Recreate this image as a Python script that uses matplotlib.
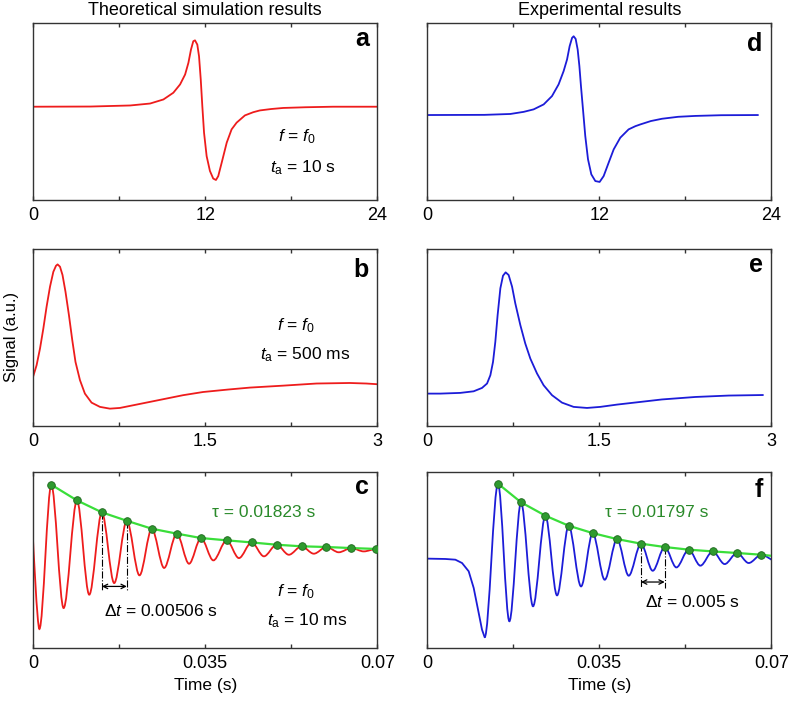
import matplotlib
matplotlib.use('Agg')
import matplotlib.pyplot as plt
from matplotlib.path import Path
from matplotlib.patches import PathPatch

plt.rcParams['font.family'] = ['Liberation Sans', 'DejaVu Sans']
plt.rcParams['mathtext.fontset'] = 'custom'
plt.rcParams['mathtext.rm'] = 'Liberation Sans'
plt.rcParams['mathtext.it'] = 'Liberation Sans:italic'
plt.rcParams['mathtext.bf'] = 'Liberation Sans:bold'

# ---- data (signal in arbitrary units, 0-100 = panel height) ----
# a: theoretical, t_a = 10 s
a_t = [0, 4.0, 6.77, 8.16, 9.09, 9.78, 10.25, 10.60, 10.83, 11.01, 11.17, 11.29, 11.45, 11.57,
       11.69, 11.80, 11.92, 12.10, 12.33, 12.56, 12.75, 12.91, 13.15, 13.50, 13.84, 14.19,
       14.77, 15.35, 15.81, 16.6, 17.44, 19.0, 20.92, 24.0]
a_sig = [52.7, 52.8, 53.4, 54.5, 56.8, 60.6, 65.3, 70.9, 77.5, 85.0, 89.7, 90.2, 87.8, 81.2,
         68.1, 53.0, 38.0, 24.8, 16.4, 12.1, 11.3, 13.5, 21.1, 32.4, 39.9, 43.7,
         47.8, 49.6, 50.6, 51.4, 52.0, 52.4, 52.7, 52.7]

# d: experimental, t_a = 10 s
d_t = [0, 4.0, 5.81, 6.74, 7.43, 8.13, 8.71, 9.17, 9.52, 9.76, 9.94, 10.11, 10.22, 10.36,
       10.50, 10.62, 10.73, 10.87, 11.03, 11.22, 11.45, 11.73, 12.03, 12.31, 12.66, 13.01,
       13.47, 14.05, 14.52, 14.87, 15.6, 16.38, 17.5, 18.70, 20.5, 23.07]
d_sig = [48.0, 48.1, 48.6, 49.8, 51.2, 54.0, 58.7, 65.3, 72.8, 79.4, 86.9, 91.6, 92.5, 91.0,
         85.0, 75.6, 64.3, 51.2, 36.1, 23.0, 14.5, 10.7, 10.2, 13.5, 21.1, 28.6,
         35.2, 39.9, 41.7, 42.7, 44.6, 45.9, 47.0, 47.5, 47.9, 48.0]

# b: theoretical, t_a = 500 ms
b_t = [0, 0.031, 0.061, 0.090, 0.118, 0.148, 0.177, 0.200, 0.214, 0.235, 0.257, 0.283, 0.313,
       0.342, 0.370, 0.409, 0.452, 0.510, 0.583, 0.670, 0.757, 0.872, 1.017, 1.162, 1.307,
       1.481, 1.700, 1.890, 2.180, 2.470, 2.759, 2.904, 3.0]
b_sig = [27.7, 34.3, 43.8, 55.1, 67.3, 78.7, 87.1, 90.5, 91.3, 90.0, 85.3, 75.8, 62.6,
         48.5, 36.2, 25.9, 18.3, 13.2, 10.8, 9.8, 10.2, 11.7, 13.6, 15.5, 17.4,
         19.2, 20.6, 21.7, 22.8, 24.0, 24.3, 24.0, 23.6]

# e: experimental, t_a = 500 ms
e_t = [0, 0.116, 0.290, 0.406, 0.479, 0.523, 0.552, 0.575, 0.595, 0.615, 0.639, 0.662, 0.685,
       0.711, 0.741, 0.769, 0.813, 0.856, 0.900, 0.958, 1.016, 1.089, 1.176, 1.277, 1.394,
       1.510, 1.656, 1.859, 2.047, 2.338, 2.628, 2.927]
e_sig = [18.3, 18.3, 18.7, 19.6, 21.5, 24.0, 28.7, 36.2, 47.5, 62.6, 77.8, 84.9, 86.8,
         85.3, 78.7, 69.3, 57.0, 46.6, 38.1, 29.7, 23.0, 17.4, 13.2, 10.8, 10.2,
         10.8, 12.1, 13.6, 15.0, 16.4, 17.2, 17.5]

# c: theoretical, t_a = 10 ms (start point, then alternating troughs / peaks)
c_t = [0, 0.00129, 0.00372, 0.00622, 0.00893, 0.01143, 0.01400, 0.01650, 0.01907, 0.02164,
       0.02415, 0.02665, 0.02922, 0.03172, 0.03415, 0.03666, 0.03936, 0.04186, 0.04443, 0.04694,
       0.04951, 0.05201, 0.05458, 0.05708, 0.05965, 0.06215, 0.06472, 0.06723, 0.06980]
c_sig = [61.6, 10.8, 92.8, 22.7, 83.9, 30.3, 77.1, 36.9, 72.3, 41.3,
         67.8, 45.5, 65.0, 47.9, 62.5, 49.8, 61.2, 51.1, 60.0, 52.1,
         58.7, 53.0, 57.8, 53.6, 57.4, 54.4, 56.8, 54.9, 56.3]
c_fit_t = [0.00372, 0.00893, 0.01400, 0.01907, 0.02415, 0.02922, 0.03415, 0.03936, 0.04443,
           0.04951, 0.05458, 0.05965, 0.06472, 0.06980]
c_fit_sig = [92.8, 83.9, 77.1, 72.3, 67.8, 65.0, 62.5, 61.2, 60.0, 58.7, 57.8, 57.4, 56.8, 56.3]

# f: experimental, t_a = 10 ms (flat lead-in, then alternating troughs / peaks)
f_pre_t = [0, 0.00373, 0.00576, 0.00712, 0.00847, 0.00949, 0.01037, 0.01118, 0.01172]
f_pre_sig = [50.8, 50.6, 50.2, 48.3, 43.6, 34.1, 21.8, 10.4, 6.1]
f_t = [0.01172, 0.01443, 0.01674, 0.01911, 0.02155, 0.02406, 0.02643, 0.02880, 0.03131, 0.03368,
       0.03612, 0.03863, 0.04100, 0.04350, 0.04588, 0.04832, 0.05069, 0.05319, 0.05557, 0.05807,
       0.06051, 0.06302, 0.06539, 0.06797, 0.07]
f_sig = [6.1, 93.4, 15.2, 82.8, 23.7, 75.2, 29.9, 69.5, 35.0, 65.3,
         38.8, 61.9, 41.1, 59.3, 43.9, 57.4, 45.8, 55.9, 46.8, 54.9,
         47.7, 54.0, 48.3, 53.0, 50.2]
f_fit_t = [0.01443, 0.01911, 0.02406, 0.02880, 0.03368, 0.03863, 0.04350, 0.04832, 0.05319,
           0.05807, 0.06302, 0.06797, 0.07]
f_fit_sig = [93.4, 82.8, 75.2, 69.5, 65.3, 61.9, 59.3, 57.4, 55.9, 54.9, 54.0, 53.0, 52.4]

xmax_top, xmax_mid, xmax_bot = 24, 3, 0.07
ticks_top = ['0', '12', '24']
ticks_mid = ['0', '1.5', '3']
ticks_bot = ['0', '0.035', '0.07']

RED = '#ee1c1c'
BLUE = '#1c1cd8'
GREEN_LINE = '#3ade3a'
GREEN_DOT = '#2f9a2f'
GREEN_TXT = '#2a8a2a'


def extrema_path(t, s, k=0.33, free_start=False, free_end=False):
    # smooth curve between successive extrema, flat tangent at each extremum
    verts = [(t[0], s[0])]
    codes = [Path.MOVETO]
    n = len(t)
    for i in range(n - 1):
        dx = t[i + 1] - t[i]
        c1 = (t[i], s[i]) if (i == 0 and free_start) else (t[i] + k * dx, s[i])
        c2 = (t[i + 1], s[i + 1]) if (i == n - 2 and free_end) else (t[i + 1] - k * dx, s[i + 1])
        verts += [c1, c2, (t[i + 1], s[i + 1])]
        codes += [Path.CURVE4] * 3
    return Path(verts, codes)


def style(ax, xmax, labels):
    ax.set_xlim(0, xmax)
    ax.set_ylim(0, 100)
    ax.set_xticks([0, xmax / 2, xmax])
    ax.set_xticklabels(labels)
    ax.set_xticks([xmax / 4, 3 * xmax / 4], minor=True)
    ax.set_yticks([])
    ax.tick_params(axis='x', which='both', direction='in', top=True, length=3, width=1,
                   pad=5, labelsize=13, color='#333333')
    for sp in ax.spines.values():
        sp.set_linewidth(1)
        sp.set_color('#333333')


def letter(ax, s, y):
    ax.text(0.975, y, s, transform=ax.transAxes, ha='right', va='baseline',
            fontsize=18, fontweight='bold')


line_kw = dict(lw=1.3, solid_joinstyle='round', solid_capstyle='round')

fig = plt.figure(figsize=(7.88, 7.01), dpi=100)
L, R, W = 0.0419, 0.5419, 0.437
H = 0.2525
axa = fig.add_axes([L, 0.7147, W, H])
axd = fig.add_axes([R, 0.7147, W, H])
axb = fig.add_axes([L, 0.3923, W, H])
axe = fig.add_axes([R, 0.3923, W, H])
axc = fig.add_axes([L, 0.0756, W, 0.251])
axf = fig.add_axes([R, 0.0756, W, 0.251])

# top row
axa.plot(a_t, a_sig, color=RED, **line_kw)
style(axa, xmax_top, ticks_top)
axa.set_title('Theoretical simulation results', fontsize=13, pad=6)
axa.text(17.09, 33.3, '$f$ = $f_0$', fontsize=12.5)
axa.text(16.51, 15.4, r'$t_\mathrm{a}$ = 10 s', fontsize=12.5)
letter(axa, 'a', 0.868)

axd.plot(d_t, d_sig, color=BLUE, **line_kw)
style(axd, xmax_top, ticks_top)
axd.set_title('Experimental results', fontsize=13, pad=6)
letter(axd, 'd', 0.842)

# middle row
axb.plot(b_t, b_sig, color=RED, **line_kw)
style(axb, xmax_mid, ticks_mid)
axb.text(2.122, 54.2, '$f$ = $f_0$', fontsize=12.5)
axb.text(1.977, 37.5, r'$t_\mathrm{a}$ = 500 ms', fontsize=12.5)
letter(axb, 'b', 0.843)

axe.plot(e_t, e_sig, color=BLUE, **line_kw)
style(axe, xmax_mid, ticks_mid)
letter(axe, 'e', 0.872)

# bottom row
axc.add_patch(PathPatch(extrema_path(c_t, c_sig, free_start=True), fill=False,
                        edgecolor=RED, lw=1.3, zorder=2))
axc.plot(c_fit_t, c_fit_sig, color=GREEN_LINE, lw=1.6, zorder=3)
axc.plot(c_fit_t, c_fit_sig, 'o', ms=5.5, mfc=GREEN_DOT, mec='#1d661d', mew=0.6, zorder=4)
style(axc, xmax_bot, ticks_bot)
axc.set_xlabel('Time (s)', fontsize=12.5, labelpad=4)
for i in (6, 8):
    axc.plot([c_t[i], c_t[i]], [c_sig[i], 33.1], color='black', lw=0.8, ls='-.', zorder=3)
axc.annotate('', xy=(c_t[8], 35.0), xytext=(c_t[6], 35.0),
             arrowprops=dict(arrowstyle='<->', lw=0.9, shrinkA=0, shrinkB=0, mutation_scale=8))
axc.text(0.01434, 18.0, 'Δ$t$ = 0.00506 s', fontsize=12.5)
axc.text(0.03632, 74.2, 'τ = 0.01823 s', fontsize=12.5, color=GREEN_TXT)
axc.text(0.04951, 29.4, '$f$ = $f_0$', fontsize=12.5)
axc.text(0.04748, 12.9, r'$t_\mathrm{a}$ = 10 ms', fontsize=12.5)
letter(axc, 'c', 0.875)

axf.plot(f_pre_t, f_pre_sig, color=BLUE, zorder=2, **line_kw)
axf.add_patch(PathPatch(extrema_path(f_t, f_sig, free_end=True), fill=False,
                        edgecolor=BLUE, lw=1.3, zorder=2))
axf.plot(f_fit_t, f_fit_sig, color=GREEN_LINE, lw=1.6, zorder=3)
axf.plot(f_fit_t[:-1], f_fit_sig[:-1], 'o', ms=5.5, mfc=GREEN_DOT, mec='#1d661d', mew=0.6, zorder=4)
style(axf, xmax_bot, ticks_bot)
axf.set_xlabel('Time (s)', fontsize=12.5, labelpad=4)
for i in (13, 15):
    axf.plot([f_t[i], f_t[i]], [f_sig[i], 34.1], color='black', lw=0.8, ls='-.', zorder=3)
axf.annotate('', xy=(f_t[15], 37.5), xytext=(f_t[13], 37.5),
             arrowprops=dict(arrowstyle='<->', lw=0.9, shrinkA=0, shrinkB=0, mutation_scale=8))
axf.text(0.04439, 23.1, 'Δ$t$ = 0.005 s', fontsize=12.5)
axf.text(0.03625, 74.4, 'τ = 0.01797 s', fontsize=12.5, color=GREEN_TXT)
letter(axf, 'f', 0.861)

fig.text(0.014, 0.519, 'Signal (a.u.)', rotation=90, ha='center', va='center', fontsize=12)

plt.savefig('out.png', dpi=100)
plt.close()
